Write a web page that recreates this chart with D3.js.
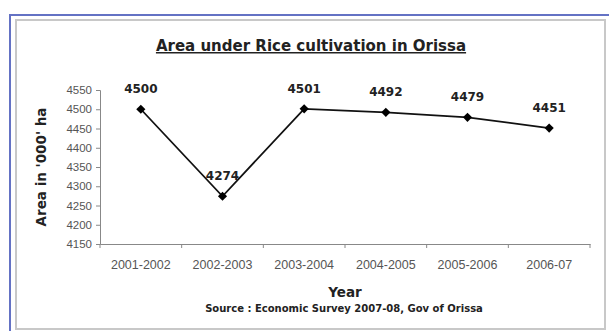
<!DOCTYPE html>
<html>
<head>
<title>Area under Rice cultivation in Orissa</title>
<script src="https://d3js.org/d3.v7.min.js"></script>
<style>
  body { margin: 0; background: #fff; }
  svg { font-family: "DejaVu Sans", Arial, sans-serif; }
</style>
</head>
<body>
<div id="chart"></div>
<script>
const years = ["2001-2002", "2002-2003", "2003-2004", "2004-2005", "2005-2006", "2006-07"];
const area = [4500, 4274, 4501, 4492, 4479, 4451];
const yTicks = [4150, 4200, 4250, 4300, 4350, 4400, 4450, 4500, 4550];

const width = 609, height = 331;
const svg = d3.select("#chart").append("svg")
  .attr("width", width)
  .attr("height", height);

// frames
svg.append("path")
  .attr("d", `M10,${height} L10,15 L${width},15`)
  .attr("fill", "none")
  .attr("stroke", "#6472c4")
  .attr("stroke-width", 2);
svg.append("rect")
  .attr("x", 16).attr("y", 20)
  .attr("width", 589).attr("height", 309)
  .attr("fill", "#fff")
  .attr("stroke", "#c8c8c8")
  .attr("stroke-width", 2);

const x = d3.scaleBand().domain(years).range([100, 590]);
const y = d3.scaleLinear().domain([4150, 4550]).range([244, 90]);

// y axis
const yAxis = svg.append("g")
  .attr("transform", "translate(100,0)")
  .call(d3.axisLeft(y).tickValues(yTicks).tickFormat(d3.format("d")).tickSize(4).tickPadding(4));
yAxis.select(".domain").attr("stroke", "#888");
yAxis.selectAll(".tick line").attr("stroke", "#888");
yAxis.selectAll("text").attr("fill", "#555").style("font-size", "11.5px");

// x axis
const xAxis = svg.append("g")
  .attr("transform", "translate(0,244)")
  .call(d3.axisBottom(x).tickSizeOuter(0).tickSize(0).tickPadding(16));
xAxis.select(".domain").attr("stroke", "#888");
xAxis.selectAll("text").attr("fill", "#555").style("font-size", "12.5px");
xAxis.selectAll(".sep")
  .data(years.map(d => x(d)).concat([x.range()[1]]))
  .join("line")
  .attr("class", "sep")
  .attr("x1", d => d).attr("x2", d => d)
  .attr("y1", 0).attr("y2", 4)
  .attr("stroke", "#888");

// line
const cx = (d, i) => x(years[i]) + x.bandwidth() / 2;
const line = d3.line()
  .x(cx)
  .y(d => y(d));
svg.append("path")
  .datum(area)
  .attr("d", line)
  .attr("fill", "none")
  .attr("stroke", "#111")
  .attr("stroke-width", 1.8);

svg.selectAll(".pt")
  .data(area)
  .join("path")
  .attr("class", "pt")
  .attr("transform", (d, i) => `translate(${cx(d, i)},${y(d)}) rotate(45)`)
  .attr("d", d3.symbol().type(d3.symbolSquare).size(42))
  .attr("fill", "#000");

svg.selectAll(".lbl")
  .data(area)
  .join("text")
  .attr("class", "lbl")
  .attr("x", cx)
  .attr("y", d => y(d) - 16)
  .attr("text-anchor", "middle")
  .style("font-size", "12px")
  .style("font-weight", "bold")
  .attr("fill", "#222")
  .text(d => d);

// titles
svg.append("text")
  .attr("x", 311).attr("y", 51)
  .attr("text-anchor", "middle")
  .style("font-size", "15px")
  .style("font-weight", "bold")
  .style("text-decoration", "underline")
  .attr("fill", "#222")
  .text("Area under Rice cultivation in Orissa");

svg.append("text")
  .attr("transform", "translate(46,167) rotate(-90)")
  .attr("text-anchor", "middle")
  .style("font-size", "13.5px")
  .style("font-weight", "bold")
  .attr("fill", "#222")
  .text("Area in '000' ha");

svg.append("text")
  .attr("x", 345).attr("y", 297)
  .attr("text-anchor", "middle")
  .style("font-size", "13.5px")
  .style("font-weight", "bold")
  .attr("fill", "#222")
  .text("Year");

svg.append("text")
  .attr("x", 344).attr("y", 312)
  .attr("text-anchor", "middle")
  .style("font-size", "10px")
  .style("font-weight", "bold")
  .attr("fill", "#222")
  .text("Source : Economic Survey  2007-08, Gov of Orissa");
</script>
</body>
</html>
